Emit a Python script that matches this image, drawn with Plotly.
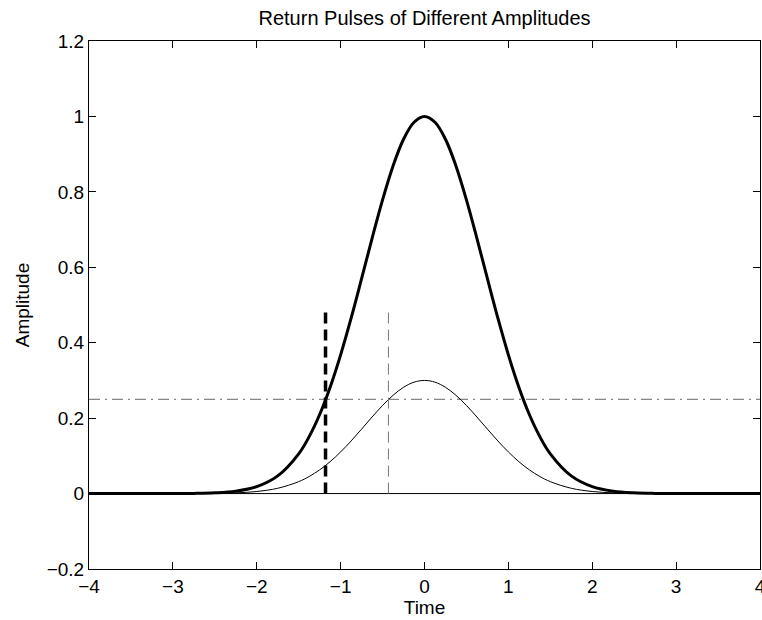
import plotly.graph_objects as go

t = [-4.0, -3.75, -3.5, -3.25, -3.0, -2.75, -2.5, -2.25, -2.0, -1.75, -1.5, -1.375, -1.25,
     -1.125, -1.0, -0.875, -0.75, -0.625, -0.5, -0.375, -0.25, -0.125, 0.0, 0.125, 0.25,
     0.375, 0.5, 0.625, 0.75, 0.875, 1.0, 1.125, 1.25, 1.375, 1.5, 1.75, 2.0, 2.25, 2.5,
     2.75, 3.0, 3.25, 3.5, 3.75, 4.0]
big_pulse = [0, 0, 0, 0, 0.0001, 0.0005, 0.0019, 0.0063, 0.0183, 0.0468, 0.1054, 0.1510,
             0.2096, 0.2821, 0.3679, 0.4650, 0.5698, 0.6766, 0.7788, 0.8688, 0.9394, 0.9845,
             1.0, 0.9845, 0.9394, 0.8688, 0.7788, 0.6766, 0.5698, 0.4650, 0.3679, 0.2821,
             0.2096, 0.1510, 0.1054, 0.0468, 0.0183, 0.0063, 0.0019, 0.0005, 0.0001, 0, 0, 0, 0]
small_pulse = [0, 0, 0, 0, 0, 0.0002, 0.0006, 0.0019, 0.0055, 0.0140, 0.0316, 0.0453,
               0.0629, 0.0846, 0.1104, 0.1395, 0.1709, 0.2030, 0.2336, 0.2606, 0.2818, 0.2954,
               0.3, 0.2954, 0.2818, 0.2606, 0.2336, 0.2030, 0.1709, 0.1395, 0.1104, 0.0846,
               0.0629, 0.0453, 0.0316, 0.0140, 0.0055, 0.0019, 0.0006, 0.0002, 0, 0, 0, 0, 0]
baseline_x = [-4, 4]
baseline_y = [0, 0]
threshold_x = [-4, 4]
threshold_y = [0.25, 0.25]
big_cross_x = [-1.18, -1.18]
small_cross_x = [-0.43, -0.43]
marker_y = [0, 0.48]
x_ticks = [-4, -3, -2, -1, 0, 1, 2, 3, 4]
y_ticks = [-0.2, 0, 0.2, 0.4, 0.6, 0.8, 1, 1.2]
y_tick_text = ["\u22120.2", "0", "0.2", "0.4", "0.6", "0.8", "1", "1.2"]
x_tick_text = ["\u22124", "\u22123", "\u22122", "\u22121", "0", "1", "2", "3", "4"]

FONT = "Liberation Sans, Arial, Helvetica"

fig = go.Figure()
fig.add_trace(go.Scatter(x=baseline_x, y=baseline_y, mode="lines",
                         line=dict(color="black", width=1)))
fig.add_trace(go.Scatter(x=threshold_x, y=threshold_y, mode="lines",
                         line=dict(color="#666666", width=1, dash="11px,5px,2px,5px")))
fig.add_trace(go.Scatter(x=t, y=small_pulse, mode="lines",
                         line=dict(color="black", width=1, shape="spline", smoothing=1)))
fig.add_trace(go.Scatter(x=t, y=big_pulse, mode="lines",
                         line=dict(color="black", width=3, shape="spline", smoothing=1)))
fig.add_trace(go.Scatter(x=big_cross_x, y=marker_y, mode="lines",
                         line=dict(color="black", width=3.5, dash="11px,6px")))
fig.add_trace(go.Scatter(x=small_cross_x, y=marker_y, mode="lines",
                         line=dict(color="#777777", width=1, dash="11px,6px")))

axis_common = dict(showgrid=False, zeroline=False, showline=True, linecolor="black",
                   linewidth=1, mirror="ticks", ticks="inside", ticklen=7,
                   tickcolor="black", tickwidth=1, automargin=False,
                   ticklabeloverflow="allow",
                   tickfont=dict(family=FONT, size=19, color="black"))

fig.update_layout(
    width=762, height=620,
    margin=dict(l=89, r=2, t=41, b=51, autoexpand=False),
    paper_bgcolor="white", plot_bgcolor="white",
    showlegend=False,
    title=dict(text="Return Pulses of Different Amplitudes", x=(89 + 760) / 2 / 762,
               xanchor="center", y=1 - 18 / 620, yanchor="middle",
               font=dict(family=FONT, size=20, color="black")),
    font=dict(family=FONT, size=19, color="black"),
)
fig.update_xaxes(range=[-4, 4], tickvals=x_ticks, ticktext=x_tick_text,
                 title=dict(text="Time", standoff=3,
                            font=dict(family=FONT, size=19)),
                 **axis_common)
fig.update_yaxes(range=[-0.2, 1.2], tickvals=y_ticks, ticktext=y_tick_text,
                 title=dict(text="Amplitude", standoff=12,
                            font=dict(family=FONT, size=19)),
                 **axis_common)

fig.write_html("out.html")
